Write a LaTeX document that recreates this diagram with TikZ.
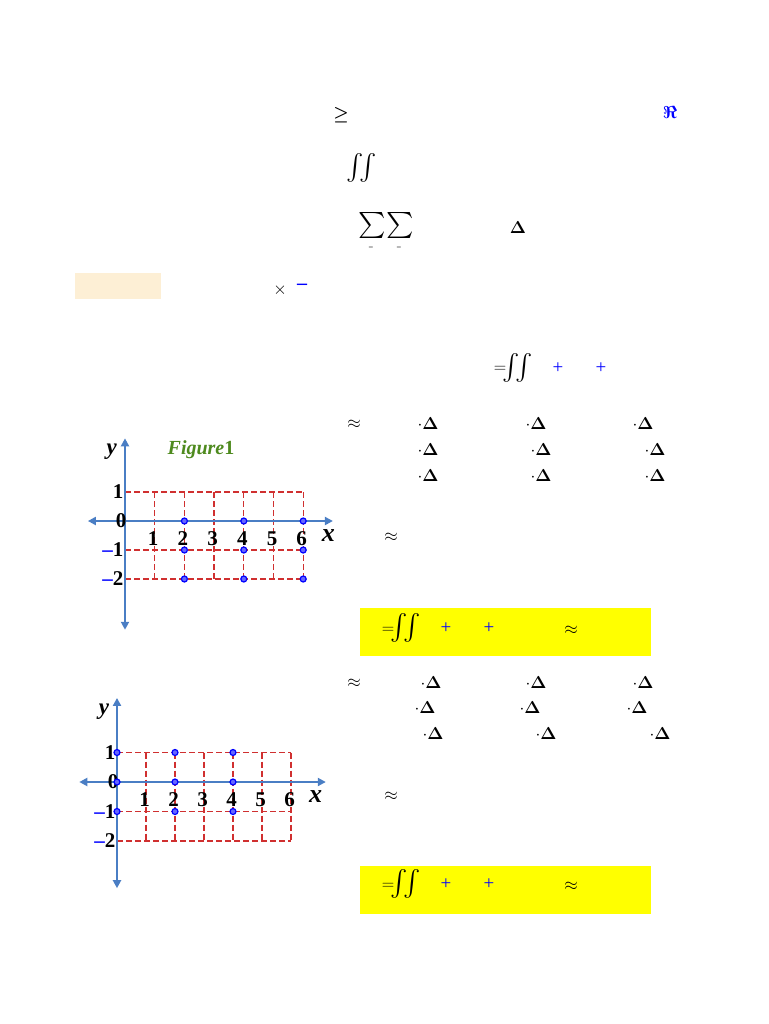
\documentclass[tikz,border=0pt]{standalone}
\usepackage{amsmath,amssymb}
\usepackage{fontspec}
\setmainfont{Liberation Serif}
\usetikzlibrary{arrows.meta}
\definecolor{axblue}{HTML}{4A7EC4}
\definecolor{gridred}{HTML}{D03030}
\definecolor{figgreen}{HTML}{4E8A1E}
\definecolor{ylw}{HTML}{FFFF00}
\definecolor{pale}{HTML}{FDEFD5}
\tikzset{
  sym/.style={font=\fontsize{17}{17}\selectfont\bfseries, inner sep=0pt},
  big/.style={font=\fontsize{26}{26}\selectfont, inner sep=0pt},
  bplus/.style={font=\fontsize{19}{19}\selectfont, text=blue, inner sep=0pt},
  axis/.style={draw=axblue, line width=2.4pt, {Triangle[length=8pt,width=8pt]}-{Triangle[length=8pt,width=8pt]}},
  gridl/.style={draw=gridred, line width=1.3pt, dash pattern=on 6pt off 3pt},
  dot/.style={circle, draw=blue, fill=blue!60, line width=1.2pt, inner sep=0pt, minimum size=6pt},
  lab/.style={font=\fontsize{21}{21}\selectfont\bfseries, inner sep=0pt},
}
\newcommand{\bm}{\textcolor{blue}{\textendash}}
\begin{document}
\begin{tikzpicture}[x=1pt,y=-1pt]
\useasboundingbox (0,0) rectangle (768,1024);
% top lines
\node[sym] (ge) at (341,115) {$\boldsymbol{\geq}$};
\node[font=\fontsize{19}{19}\selectfont, text=blue, inner sep=0pt] (re) at (670,113) {$\boldsymbol{\Re}$};
\node[big] (ii) at (362,168) {$\iint$};
\node[big] (s1) at (372,226) {$\sum$};
\node[big] (s2) at (400,226) {$\sum$};
\node[font=\tiny, inner sep=0pt] (e1) at (371,248) {$=$};
\node[font=\tiny, inner sep=0pt] (e2) at (399,248) {$=$};
\node[sym] (d0) at (518,228) {$\boldsymbol{\Delta}$};
\fill[pale] (75,273) rectangle (161,299);
\node[sym] (tm) at (280,290) {$\times$};
\node[font=\fontsize{20}{20}\selectfont\bfseries, text=blue, inner sep=0pt] (mn) at (302,287) {\textendash};
% first integral
\node[sym] (eqA) at (500,369) {$=$};
\node[big] (iiA) at (518,368) {$\iint$};
\node[bplus] (pA1) at (558,368) {+};
\node[bplus] (pA2) at (601,368) {+};
% sums block 1
\node[sym] (ap1) at (354,424) {$\approx$};
\foreach \x/\y [count=\i] in {428/424,536/424,643/424,428/450,541/450,655/450,428/476,541/476,655/476}
  \node[sym] (da\i) at (\x,\y) {$\cdot\boldsymbol{\Delta}$};
\node[sym] (ap2) at (391,537) {$\approx$};
\fill[ylw] (360,608) rectangle (651,656);
\node[sym] (eqB) at (388,630) {$=$};
\node[big] (iiB) at (406,628) {$\iint$};
\node[bplus] (pB1) at (446,628) {+};
\node[bplus] (pB2) at (489,628) {+};
\node[sym] (apB) at (571,630) {$\approx$};
% sums block 2
\node[sym] (ap3) at (354,683) {$\approx$};
\foreach \x/\y [count=\i] in {431/683,536/683,643/683,425/708,530/708,637/708,433/734,546/734,660/734}
  \node[sym] (db\i) at (\x,\y) {$\cdot\boldsymbol{\Delta}$};
\node[sym] (ap4) at (391,796) {$\approx$};
\fill[ylw] (360,866) rectangle (651,914);
\node[sym] (eqC) at (388,886) {$=$};
\node[big] (iiC) at (406,884) {$\iint$};
\node[bplus] (pC1) at (446,884) {+};
\node[bplus] (pC2) at (489,884) {+};
\node[sym] (apC) at (571,886) {$\approx$};
% Figure 1
\begin{scope}[shift={(125,521)}, x=29.7pt, y=29pt]
  \foreach \i in {1,...,6} \draw[gridl] (\i,1) -- (\i,-2);
  \foreach \j in {1,-1,-2} \draw[gridl] (0,\j) -- (6,\j);
  \draw[axis] (-1.25,0) -- (7,0);
  \draw[axis] (0,-3.75) -- (0,2.85);
  \foreach \i in {1,...,6} \node[lab] (fa\i) at (\i-0.05,-0.62) {\i};
  \node[lab,font=\fontsize{26}{26}\selectfont\bfseries\itshape] (fax) at (6.85,-0.5) {x};
  \node[lab,font=\fontsize{23}{23}\selectfont\bfseries\itshape] (fay) at (-0.45,2.4) {y};
  \node[lab,anchor=east] (fy1) at (-0.05,1) {1};
  \node[lab,anchor=east] (fy0) at (0.05,0) {0};
  \node[lab,anchor=east] (fym1) at (-0.05,-1) {\bm1};
  \node[lab,anchor=east] (fym2) at (-0.05,-2) {\bm2};
  \foreach \i in {2,4,6} \foreach \j in {0,-1,-2} \node[dot] at (\i,\j) {};
\end{scope}
\node[font=\fontsize{20}{20}\selectfont\bfseries, text=figgreen, inner sep=0pt] (fig1) at (201,450) {\textit{Figure}1};
% Figure 2
\begin{scope}[shift={(117,782)}, x=29pt, y=29.5pt]
  \foreach \i in {1,...,6} \draw[gridl] (\i,1) -- (\i,-2);
  \foreach \j in {1,-1,-2} \draw[gridl] (0,\j) -- (6,\j);
  \draw[axis] (-1.3,0) -- (7.2,0);
  \draw[axis] (0,-3.6) -- (0,2.85);
  \foreach \i in {1,...,6} \node[lab] (fb\i) at (\i-0.05,-0.6) {\i};
  \node[lab,font=\fontsize{26}{26}\selectfont\bfseries\itshape] (fbx) at (6.85,-0.5) {x};
  \node[lab,font=\fontsize{23}{23}\selectfont\bfseries\itshape] (fby) at (-0.45,2.4) {y};
  \node[lab,anchor=east] (gy1) at (-0.05,1) {1};
  \node[lab,anchor=east] (gy0) at (0.05,0) {0};
  \node[lab,anchor=east] (gym1) at (-0.05,-1) {\bm1};
  \node[lab,anchor=east] (gym2) at (-0.05,-2) {\bm2};
  \foreach \i in {0,2,4} \foreach \j in {1,0,-1} \node[dot] at (\i,\j) {};
\end{scope}
\end{tikzpicture}
\end{document}
